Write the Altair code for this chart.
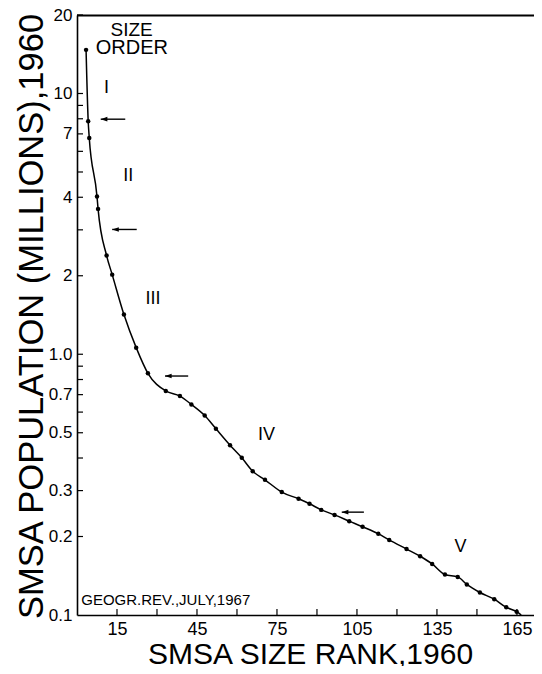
import altair as alt
import pandas as pd

# ---- data ----
ranks = [3.4, 4.2, 4.6, 7.5, 7.9, 11.1, 13.2, 17.6, 22.2, 26.6, 33.3, 38.6, 42.9,
         47.9, 52.1, 57.4, 61.8, 65.9, 70.5, 76.8, 83.1, 87.2, 91.6, 96.6, 102.1,
         107.1, 113.0, 117.1, 123.6, 128.7, 133.2, 138.0, 142.8, 146.2, 151.1,
         156.5, 161.0, 164.9]
pops = [14.7, 7.83, 6.75, 4.03, 3.61, 2.39, 2.02, 1.42, 1.06, 0.845, 0.723, 0.691,
        0.642, 0.582, 0.518, 0.448, 0.401, 0.356, 0.330, 0.296, 0.279, 0.267, 0.253,
        0.242, 0.229, 0.218, 0.205, 0.194, 0.179, 0.168, 0.157, 0.143, 0.140, 0.131,
        0.122, 0.115, 0.107, 0.103]
line_end_rank = [166.6]
line_end_pop = [0.1]

y_tick_values = [20, 10, 9, 8, 7, 6, 5, 4, 3, 2, 1, 0.9, 0.8, 0.7, 0.6, 0.5, 0.4, 0.3, 0.2]
y_label_values = [20, 10, 7, 4, 2, 1, 0.7, 0.5, 0.3, 0.2, 0.1]
x_tick_values = [15, 30, 45, 60, 75, 90, 105, 120, 135, 150, 165]
x_label_values = [15, 45, 75, 105, 135, 165]

ann_text = ["SIZE", "ORDER", "I", "II", "III", "IV", "V"]
ann_rank = [20.5, 20.6, 11.1, 19.2, 28.5, 71.1, 143.8]
ann_pop = [17.55, 15.0, 10.5, 4.84, 1.63, 0.492, 0.183]
ann_size = [19, 20, 18, 18, 18, 18, 18]

arrow_start = [8.9, 13.2, 33.0, 99.3]
arrow_end = [18.1, 22.4, 41.7, 107.6]
arrow_pop = [7.97, 3.01, 0.825, 0.248]

source_text = ["GEOGR.REV.,JULY,1967"]
source_rank = [1.6]
source_pop = [0.114]

# ---- tables ----
pts = pd.DataFrame({"rank": ranks, "pop": pops})
line_df = pd.DataFrame({"rank": ranks + line_end_rank, "pop": pops + line_end_pop})
yt = pd.DataFrame({"pop": y_tick_values})
xt = pd.DataFrame({"rank": x_tick_values})
ann = pd.DataFrame({"text": ann_text, "rank": ann_rank, "pop": ann_pop, "size": ann_size})
arr = pd.DataFrame({"rank": arrow_start, "rank2": arrow_end, "pop": arrow_pop})
src = pd.DataFrame({"text": source_text, "rank": source_rank, "pop": source_pop})

W, H = 457, 600
FONT = "Liberation Sans"
xs = alt.Scale(domain=[0, 171.4], nice=False, zero=False)
ys = alt.Scale(type="log", domain=[0.1, 20], nice=False)

x_axis = alt.Axis(values=x_label_values, tickSize=0, domainColor="black", domainWidth=1.6,
                  labelFont=FONT, labelFontSize=18, labelColor="black", labelPadding=5,
                  labelOverlap=False, labelFlush=False, grid=False,
                  title="SMSA SIZE RANK,1960", titleFont=FONT, titleFontSize=30,
                  titleFontWeight="normal", titleColor="black", titleY=48,
                  titleX=233, titleBaseline="alphabetic")
y_axis = alt.Axis(values=y_label_values,
                  labelExpr="datum.value >= 2 ? format(datum.value, 'd') : format(datum.value, '.1f')",
                  tickSize=0, domainColor="black", domainWidth=1.6,
                  labelFont=FONT, labelFontSize=17, labelColor="black", labelPadding=5,
                  labelOverlap=False, labelFlush=False, grid=False,
                  title="SMSA POPULATION (MILLIONS),1960", titleFont=FONT, titleFontSize=34.5,
                  titleFontWeight="normal", titleColor="black", titleX=-35, titleY=301,
                  titleAlign="center", titleBaseline="alphabetic")

X = alt.X("rank:Q", scale=xs, axis=x_axis)
Y = alt.Y("pop:Q", scale=ys, axis=y_axis)

line = alt.Chart(line_df).mark_line(color="black", strokeWidth=1.5, interpolate="monotone",
                                    clip=True).encode(x=X, y=Y)
points = alt.Chart(pts).mark_circle(color="black", size=20, opacity=1).encode(x=X, y=Y)
yticks = alt.Chart(yt).mark_rule(color="black", strokeWidth=1.2).encode(
    y=Y, x=alt.value(0), x2=alt.value(6),
)
xticks = alt.Chart(xt).mark_rule(color="black", strokeWidth=1.2).encode(
    x=X, y=alt.value(H), y2=alt.value(H - 6),
)
top = alt.Chart(pd.DataFrame({"k": [0]})).mark_rule(color="black", strokeWidth=2).encode(
    x=alt.value(0), x2=alt.value(W), y=alt.value(0.5),
)
labels = alt.Chart(ann).mark_text(font=FONT, color="black", align="center",
                                  baseline="middle").encode(
    x=X, y=Y, text="text:N",
    size=alt.Size("size:Q", scale=None, legend=None),
)
arrow_shaft = alt.Chart(arr).mark_rule(color="black", strokeWidth=1.4).encode(
    x=X, x2="rank2:Q", y=Y,
)
arrow_head = alt.Chart(arr).mark_point(shape="M0,0L2,-0.7L2,0.7Z", filled=True, color="black",
                                       size=44, opacity=1).encode(x=X, y=Y)
source = alt.Chart(src).mark_text(font=FONT, fontSize=15, color="black", align="left",
                                  baseline="middle").encode(x=X, y=Y, text="text:N")

chart = alt.layer(line, points, yticks, xticks, top, labels, arrow_shaft, arrow_head,
                  source).properties(
    width=W, height=H,
    autosize=alt.AutoSizeParams(type="none"),
    padding={"left": 69, "top": 7, "right": 0, "bottom": 51},
    background="white",
).configure_view(stroke=None)

chart.save("out.html", embed_options={"renderer": "svg", "actions": False})
